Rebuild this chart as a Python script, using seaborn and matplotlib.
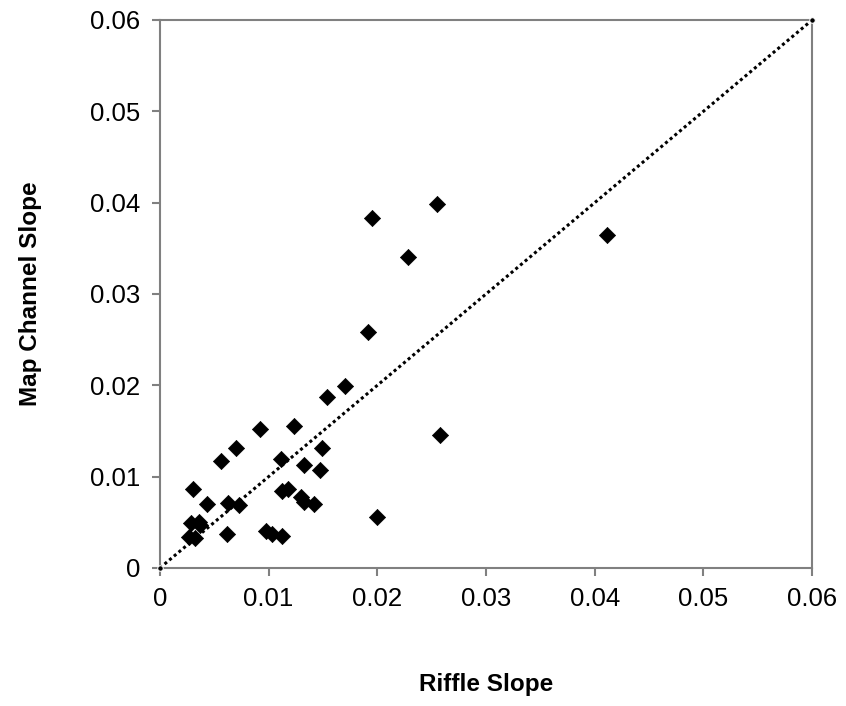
"""
Riffle slope vs map channel slope scatter with 1:1 reference line.
"""

import matplotlib
matplotlib.use('Agg')  # Use non-interactive backend
import matplotlib.pyplot as plt
import seaborn as sns
import pandas as pd

# Data
riffle_slope = [0.0195, 0.0255, 0.0228, 0.0411, 0.0191, 0.0170, 0.0154, 0.0092,
                0.0123, 0.0070, 0.0056, 0.0149, 0.0111, 0.0133, 0.0147, 0.0030,
                0.0112, 0.0118, 0.0043, 0.0063, 0.0073, 0.0130, 0.0133, 0.0142,
                0.0029, 0.0036, 0.0037, 0.0027, 0.0032, 0.0062, 0.0098, 0.0103,
                0.0112, 0.0200, 0.0258]
map_slope = [0.0383, 0.0398, 0.0341, 0.0365, 0.0258, 0.0199, 0.0187, 0.0152,
             0.0155, 0.0131, 0.0117, 0.0131, 0.0119, 0.0113, 0.0107, 0.0087,
             0.0084, 0.0087, 0.0070, 0.0071, 0.0069, 0.0078, 0.0072, 0.0070,
             0.0049, 0.0050, 0.0047, 0.0034, 0.0033, 0.0037, 0.0040, 0.0037,
             0.0035, 0.0056, 0.0146]
one_to_one = [0.0, 0.06]
tick_values = [0, 0.01, 0.02, 0.03, 0.04, 0.05, 0.06]
tick_labels = ['0', '0.01', '0.02', '0.03', '0.04', '0.05', '0.06']

sns.set_style('white')
plt.rcParams['font.family'] = ['Liberation Sans', 'DejaVu Sans']
plt.rcParams.update({
    'text.color': 'black',
    'axes.labelcolor': 'black',
    'xtick.color': 'black',
    'ytick.color': 'black',
})

df = pd.DataFrame({'riffle': riffle_slope, 'map': map_slope})
line_df = pd.DataFrame({'x': one_to_one, 'y': one_to_one})

fig = plt.figure(figsize=(8.46, 7.06), dpi=100)
ax = fig.add_axes([0.189, 0.1955, 0.771, 0.7762])

sns.scatterplot(data=df, x='riffle', y='map', marker='D', s=68, color='black',
                edgecolor='black', linewidth=0.5, ax=ax, zorder=3)
sns.lineplot(data=line_df, x='x', y='y', color='black', linestyle=(0, (1, 1)),
             linewidth=2.2, marker='o', markersize=4, ax=ax, zorder=4,
             clip_on=False)

ax.set_xlim(0, 0.06)
ax.set_ylim(0, 0.06)
ax.set_xticks(tick_values)
ax.set_yticks(tick_values)
ax.set_xticklabels(tick_labels)
ax.set_yticklabels(tick_labels)

ax.set_xlabel('Riffle Slope', fontsize=17.5, fontweight='bold', labelpad=44)
ax.set_ylabel('Map Channel Slope', fontsize=17.5, fontweight='bold', labelpad=35)

for spine in ax.spines.values():
    spine.set_color('#808080')
    spine.set_linewidth(1.5)
ax.tick_params(axis='both', direction='out', length=6, width=1.5,
               color='#808080', labelcolor='black', labelsize=18.5, pad=8,
               bottom=True, left=True)
ax.grid(False)

fig.savefig('out.png', dpi=100)
